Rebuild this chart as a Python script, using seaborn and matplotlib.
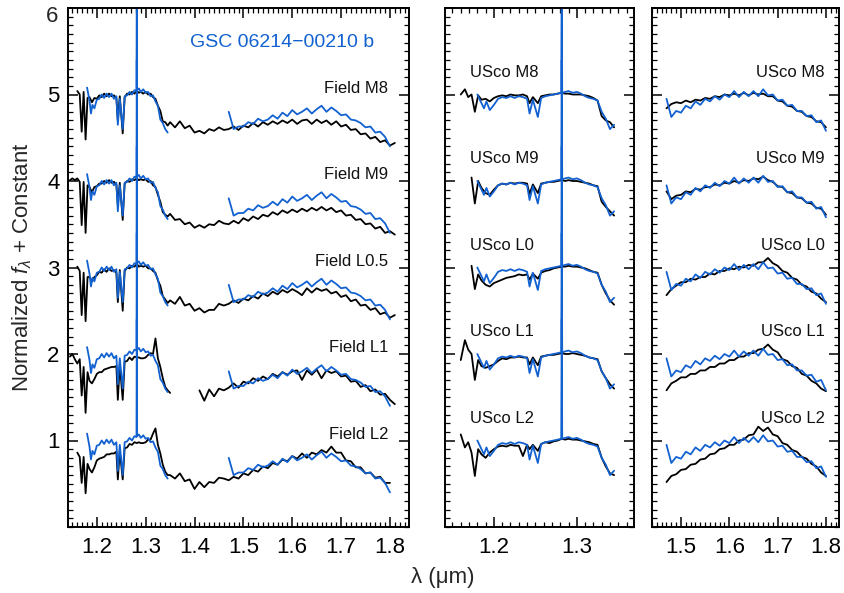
import numpy as np
import matplotlib
matplotlib.use("Agg")
import matplotlib.pyplot as plt
from matplotlib.ticker import MultipleLocator
from matplotlib.transforms import blended_transform_factory
import seaborn as sns

nan = np.nan
BLUE = "#1261d1"
BLACK = "#000000"

# ---------------- data (normalized flux; plotted = flux + offset) ----------------
offsets = [4, 3, 2, 1, 0]
field_labels = ["Field M8", "Field M9", "Field L0.5", "Field L1", "Field L2"]
usco_labels = ["USco M8", "USco M9", "USco L0", "USco L1", "USco L2"]
title_text = "GSC 06214\u221200210 b"

# wavelength grids (micron)
wJ = [1.145, 1.150, 1.155, 1.160, 1.165, 1.169, 1.173, 1.177, 1.181, 1.185, 1.190, 1.195,
      1.200, 1.205, 1.210, 1.215, 1.220, 1.225, 1.230, 1.235, 1.240, 1.243, 1.247, 1.253,
      1.257, 1.262, 1.267, 1.272, 1.277, 1.282, 1.286, 1.290, 1.295, 1.300, 1.305, 1.310,
      1.315, 1.320, 1.325, 1.330, 1.335, 1.340, 1.345]
wJo = [1.180, 1.185, 1.188, 1.191, 1.195, 1.200, 1.205, 1.210, 1.215, 1.220, 1.225, 1.230,
       1.235, 1.240, 1.243, 1.247, 1.253, 1.257, 1.262, 1.267, 1.272, 1.277, 1.2812, 1.2818,
       1.2824, 1.286, 1.290, 1.295, 1.300, 1.305, 1.310, 1.315, 1.320, 1.325, 1.330, 1.335,
       1.340, 1.345]
wG = [1.350, 1.360, 1.370, 1.380, 1.390, 1.400, 1.410, 1.420, 1.430, 1.440, 1.450, 1.460]
wH = [1.47, 1.48, 1.49, 1.50, 1.51, 1.52, 1.53, 1.54, 1.55, 1.56, 1.57, 1.58, 1.59, 1.60,
      1.61, 1.62, 1.63, 1.64, 1.65, 1.66, 1.67, 1.68, 1.69, 1.70, 1.71, 1.72, 1.73, 1.74,
      1.75, 1.76, 1.77, 1.78, 1.79, 1.80, 1.81]
wHr = [1.47, 1.48, 1.49, 1.50, 1.51, 1.52, 1.53, 1.54, 1.55, 1.56, 1.57, 1.58, 1.59, 1.60,
       1.61, 1.62, 1.63, 1.64, 1.65, 1.66, 1.67, 1.68, 1.69, 1.70, 1.71, 1.72, 1.73, 1.74,
       1.75, 1.76, 1.77, 1.78, 1.79, 1.80]

# GSC 06214-00210 b (blue)
obj_J_left = [1.08, 0.93, 0.78, 0.88, 0.84, 0.94, 0.95, 1.00, 0.96, 1.01, 0.97, 1.01, 0.95,
              0.98, 0.65, 0.95, 0.60, 0.98, 0.99, 1.03, 1.00, 1.05, 1.04, 2.40, 1.05, 1.07,
              1.03, 1.06, 1.02, 1.03, 0.98, 0.99, 0.92, 0.87, 0.71, 0.67, 0.60, 0.56]
obj_H_left = [0.80, 0.60, 0.63, 0.63, 0.68, 0.66, 0.72, 0.69, 0.71, 0.76, 0.72, 0.79, 0.75,
              0.82, 0.77, 0.80, 0.84, 0.78, 0.83, 0.87, 0.80, 0.85, 0.81, 0.76, 0.77, 0.71,
              0.70, 0.67, 0.62, 0.63, 0.56, 0.57, 0.51, 0.40, nan]
obj_J_mid = [1.00, 0.90, 0.84, 0.92, 0.82, 0.88, 0.95, 0.97, 0.96, 0.98, 0.96, 0.98, 0.97,
             0.95, 0.78, 0.94, 0.74, 0.96, 0.98, 0.99, 1.00, 1.01, 1.02, 2.40, 1.02, 1.03,
             1.04, 1.02, 1.03, 1.01, 0.98, 0.96, 0.95, 0.93, 0.80, 0.72, 0.60, 0.65]
obj_H_right = [0.95, 0.74, 0.81, 0.79, 0.87, 0.84, 0.92, 0.88, 0.95, 0.92, 0.98, 0.94, 1.00,
               0.97, 1.04, 0.97, 1.03, 0.98, 1.04, 0.98, 1.06, 0.99, 1.00, 0.93, 0.94, 0.87,
               0.88, 0.81, 0.81, 0.75, 0.76, 0.68, 0.70, 0.58]

# Field templates (black), left panel: J, gap, H
fM8_J = [nan, nan, nan, 1.04, 1.00, 0.57, 1.03, 0.48, 0.96, 0.97, 0.91, 0.96, 0.95, 0.99, 0.97,
         1.01, 0.98, 1.01, 0.98, 0.99, 0.96, 0.70, 0.98, 0.55, 0.97, 1.01, 1.00, 1.03, 1.01,
         1.04, 1.02, 1.03, 1.01, 1.03, 1.00, 1.01, 0.97, 0.95, 0.87, 0.81, 0.69, 0.68, 0.64]
fM9_J = [1.01, 1.03, 1.01, 1.03, 0.99, 0.49, 0.99, 0.40, 0.95, 0.93, 0.87, 0.93, 0.94, 0.97,
         0.97, 1.00, 0.98, 1.01, 0.98, 0.99, 0.96, 0.72, 0.98, 0.55, 0.97, 1.00, 0.99, 1.02,
         1.01, 1.03, 1.01, 1.02, 1.01, 1.02, 0.99, 1.00, 0.95, 0.93, 0.84, 0.76, 0.64, 0.61, 0.59]
fL05_J = [nan, nan, nan, 1.01, 0.96, 0.45, 0.94, 0.38, 0.89, 0.89, 0.84, 0.89, 0.91, 0.95,
          0.94, 0.98, 0.95, 0.99, 0.96, 0.97, 0.94, 0.60, 0.97, 0.50, 0.96, 1.00, 0.99, 1.02,
          1.01, 1.04, 1.01, 1.02, 1.01, 1.02, 0.99, 0.99, 0.96, 0.94, 0.85, 0.79, 0.67, 0.63, 0.59]
fL1_J = [0.97, 1.00, 0.94, 0.89, 0.94, 0.52, 0.85, 0.32, 0.79, 0.69, 0.66, 0.71, 0.77, 0.79,
         0.79, 0.82, 0.83, 0.84, 0.85, 0.85, 0.86, 0.47, 0.88, 0.47, 0.91, 0.92, 0.96, 0.93,
         0.97, 0.96, 0.96, 0.95, 0.95, 0.96, 0.99, 1.01, 1.00, 1.18, 0.95, 0.85, 0.72, 0.62, 0.58]
fL2_J = [nan, nan, nan, 0.86, 0.81, 0.51, 0.81, 0.39, 0.73, 0.67, 0.63, 0.69, 0.77, 0.79, 0.80,
         0.81, 0.84, 0.84, 0.85, 0.85, 0.87, 0.55, 0.88, 0.55, 0.91, 0.92, 0.96, 0.95, 0.98,
         0.97, 0.98, 0.97, 0.97, 0.98, 1.01, 1.01, 1.08, 1.14, 0.95, 0.85, 0.72, 0.64, 0.60]

fM8_G = [0.68, 0.62, 0.69, 0.61, 0.64, 0.56, 0.58, 0.55, 0.60, 0.58, 0.62, 0.59]
fM9_G = [0.62, 0.55, 0.56, 0.50, 0.52, 0.46, 0.49, 0.46, 0.50, 0.49, 0.54, 0.51]
fL05_G = [0.62, 0.58, 0.66, 0.56, 0.58, 0.50, 0.53, 0.48, 0.51, 0.51, 0.58, 0.56]
fL1_G = [0.55, nan, nan, nan, nan, nan, 0.58, 0.46, 0.59, 0.51, 0.60, 0.58]
fL2_G = [0.60, 0.56, 0.62, 0.53, 0.55, 0.44, 0.52, 0.46, 0.52, 0.51, 0.57, 0.56]

fM8_H = [0.60, 0.63, 0.59, 0.64, 0.62, 0.67, 0.63, 0.68, 0.65, 0.69, 0.66, 0.70, 0.67, 0.71,
         0.66, 0.70, 0.71, 0.66, 0.71, 0.67, 0.70, 0.65, 0.69, 0.63, 0.65, 0.59, 0.60, 0.54,
         0.55, 0.49, 0.51, 0.45, 0.47, 0.41, 0.44]
fM9_H = [0.50, 0.54, 0.51, 0.57, 0.54, 0.59, 0.56, 0.61, 0.59, 0.64, 0.61, 0.66, 0.63, 0.67,
         0.64, 0.68, 0.65, 0.69, 0.66, 0.70, 0.66, 0.69, 0.64, 0.66, 0.60, 0.61, 0.55, 0.56,
         0.50, 0.51, 0.45, 0.47, 0.40, 0.42, 0.38]
fL05_H = [0.58, 0.62, 0.59, 0.64, 0.62, 0.67, 0.64, 0.70, 0.67, 0.72, 0.69, 0.74, 0.71, 0.75,
          0.72, 0.68, 0.76, 0.71, 0.76, 0.73, 0.75, 0.70, 0.72, 0.66, 0.68, 0.61, 0.63, 0.56,
          0.57, 0.51, 0.53, 0.46, 0.48, 0.42, 0.45]
fL1_H = [0.61, 0.66, 0.61, 0.68, 0.66, 0.72, 0.69, 0.74, 0.71, 0.77, 0.74, 0.79, 0.76, 0.80,
         0.81, 0.70, 0.81, 0.76, 0.82, 0.72, 0.81, 0.78, 0.80, 0.74, 0.75, 0.68, 0.69, 0.62,
         0.64, 0.57, 0.59, 0.53, 0.54, 0.47, 0.42]
fL2_H = [0.54, 0.58, 0.56, 0.62, 0.60, 0.66, 0.64, 0.70, 0.68, 0.74, 0.72, 0.78, 0.76, 0.82,
         0.79, 0.85, 0.80, 0.86, 0.84, 0.89, 0.86, 0.93, 0.86, 0.86, 0.77, 0.76, 0.69, 0.69,
         0.62, 0.63, 0.57, 0.58, 0.51, 0.51, nan]

# USco templates (black), middle panel J
uM8_J = [nan, nan, nan, 1.00, 1.06, 0.97, 1.00, 0.80, 0.99, 0.94, 0.95, 0.92, 0.96, 0.98, 0.99,
         0.98, 1.00, 0.99, 0.99, 1.00, 0.98, 0.90, 0.97, 0.90, 0.98, 0.99, 1.00, 1.00, 1.01,
         1.02, 1.01, 1.01, 1.00, 1.00, 1.00, 0.99, 0.98, 0.96, 0.93, 0.75, 0.70, 0.68, 0.62]
uM9_J = [nan, nan, nan, nan, nan, nan, 1.04, 0.74, 1.00, 0.92, 0.86, 0.84, 0.90, 0.95, 0.97,
         0.96, 0.98, 0.97, 0.98, 0.98, 0.97, 0.85, 0.96, 0.86, 0.97, 0.98, 0.99, 0.99, 1.00,
         1.01, 1.00, 1.01, 1.00, 1.00, 0.99, 0.98, 0.97, 0.95, 0.94, 0.76, 0.70, 0.65, 0.60]
uL0_J = [nan, nan, nan, nan, nan, nan, 1.02, 0.75, 0.92, 0.85, 0.80, 0.78, 0.82, 0.84, 0.86,
         0.88, 0.89, 0.90, 0.92, 0.91, 0.92, 0.86, 0.93, 0.87, 0.94, 0.96, 0.97, 0.99, 1.00,
         1.01, 1.01, 1.02, 1.01, 1.01, 1.00, 0.99, 0.97, 0.95, 0.94, 0.80, 0.70, 0.62, 0.57]
uL1_J = [nan, nan, nan, 0.93, 1.16, 1.05, 1.00, 0.70, 0.93, 0.86, 0.84, 0.86, 0.88, 0.92, 0.95,
         0.94, 0.96, 0.96, 0.97, 0.96, 0.96, 0.88, 0.96, 0.87, 0.97, 0.98, 0.99, 0.99, 1.00,
         1.01, 1.00, 1.00, 1.01, 1.00, 0.99, 0.98, 0.96, 0.95, 0.94, 0.80, 0.72, 0.65, 0.60]
uL2_J = [nan, nan, nan, 1.07, 0.92, 0.98, 0.86, 0.59, 0.90, 0.84, 0.80, 0.86, 0.90, 0.93, 0.94,
         0.93, 0.95, 0.94, 0.94, 0.82, 0.95, 0.90, 0.95, 0.88, 0.96, 0.98, 0.97, 0.99, 1.00,
         1.02, 1.01, 1.02, 1.01, 1.01, 1.00, 0.99, 0.98, 0.96, 0.95, 0.80, 0.70, 0.62, 0.60]

# USco templates (black), right panel H
uM8_H = [0.84, 0.89, 0.91, 0.90, 0.93, 0.91, 0.94, 0.93, 0.96, 0.95, 0.98, 0.97, 1.00, 0.99,
         1.01, 0.99, 1.02, 0.99, 1.02, 1.00, 1.01, 0.98, 0.98, 0.93, 0.92, 0.87, 0.86, 0.81,
         0.80, 0.75, 0.74, 0.69, 0.68, 0.62]
uM9_H = [0.88, 0.79, 0.83, 0.84, 0.88, 0.87, 0.91, 0.90, 0.93, 0.93, 0.96, 0.95, 0.98, 0.97,
         1.00, 0.98, 1.01, 1.00, 1.03, 1.02, 1.05, 1.01, 0.99, 0.94, 0.93, 0.87, 0.86, 0.81,
         0.80, 0.75, 0.74, 0.69, 0.68, 0.61]
uL0_H = [0.68, 0.75, 0.79, 0.83, 0.83, 0.87, 0.86, 0.89, 0.89, 0.93, 0.92, 0.96, 0.96, 0.99,
         0.98, 1.01, 1.00, 1.03, 1.02, 1.06, 1.06, 1.11, 1.05, 1.02, 0.96, 0.94, 0.88, 0.86,
         0.80, 0.78, 0.72, 0.70, 0.64, 0.60]
uL1_H = [0.58, 0.66, 0.69, 0.73, 0.73, 0.77, 0.77, 0.81, 0.81, 0.85, 0.85, 0.89, 0.89, 0.93,
         0.93, 0.97, 0.97, 1.01, 1.01, 1.05, 1.06, 1.11, 1.05, 1.02, 0.94, 0.92, 0.86, 0.84,
         0.77, 0.75, 0.69, 0.66, 0.60, 0.57]
uL2_H = [0.52, 0.59, 0.61, 0.66, 0.67, 0.72, 0.73, 0.78, 0.79, 0.84, 0.85, 0.90, 0.91, 0.95,
         0.95, 1.00, 1.01, 1.06, 1.07, 1.16, 1.11, 1.15, 1.07, 1.05, 0.97, 0.95, 0.89, 0.87,
         0.81, 0.79, 0.73, 0.70, 0.63, 0.59]

field_J = [fM8_J, fM9_J, fL05_J, fL1_J, fL2_J]
field_G = [fM8_G, fM9_G, fL05_G, fL1_G, fL2_G]
field_H = [fM8_H, fM9_H, fL05_H, fL1_H, fL2_H]
usco_J = [uM8_J, uM9_J, uL0_J, uL1_J, uL2_J]
usco_H = [uM8_H, uM9_H, uL0_H, uL1_H, uL2_H]

# ---------------- style ----------------
sns.set_theme(style="white")
plt.rcParams["font.family"] = ["Liberation Sans", "DejaVu Sans"]
plt.rcParams["mathtext.fontset"] = "custom"
plt.rcParams["mathtext.rm"] = "Liberation Sans"
plt.rcParams["mathtext.it"] = "Liberation Sans:italic"

fig = plt.figure(figsize=(8.44, 5.93), dpi=100)
W, H = 844.0, 593.0
bot, top = 527.0, 8.0
def add_ax(x0, x1):
    return fig.add_axes([x0 / W, 1 - bot / H, (x1 - x0) / W, (bot - top) / H])
axL = add_ax(68, 409)
axM = add_ax(445, 634)
axR = add_ax(652, 839)

LW = 1.3

def draw(ax, lam, flux, offset, color):
    lam = np.asarray(lam, float)
    y = np.asarray(flux, float) + offset
    idx = np.flatnonzero(~np.isnan(y))
    if idx.size == 0:
        return
    runs = np.split(idx, np.where(np.diff(idx) > 1)[0] + 1)
    for run in runs:
        if run.size < 2:
            continue
        sns.lineplot(x=lam[run], y=y[run], ax=ax, color=color, lw=LW,
                     sort=False, estimator=None, legend=False)

for i, off in enumerate(offsets):
    lam_all = list(wJ) + list(wG) + list(wH)
    flux_all = list(field_J[i]) + list(field_G[i]) + list(field_H[i])
    draw(axL, lam_all, flux_all, off, BLACK)
    draw(axL, wJo, obj_J_left, off, BLUE)
    draw(axL, wH, obj_H_left, off, BLUE)
    axL.text(1.797, off + 1.075, field_labels[i], ha="right", va="center", fontsize=12, color="#111111")
    draw(axM, wJ, usco_J[i], off, BLACK)
    draw(axM, wJo, obj_J_mid, off, BLUE)
    axM.text(1.171, off + 1.26, usco_labels[i], ha="left", va="center", fontsize=12, color="#111111")
    draw(axR, wHr, usco_H[i], off, BLACK)
    draw(axR, wHr, obj_H_right, off, BLUE)
    axR.text(1.797, off + 1.26, usco_labels[i], ha="right", va="center", fontsize=12, color="#111111")

axL.text(1.58, 5.6, title_text, ha="center", va="center", fontsize=14, color=BLUE)

limits = {axL: (1.141, 1.839), axM: (1.141, 1.369), axR: (1.44, 1.827)}
xmajor = {axL: [1.2, 1.3, 1.4, 1.5, 1.6, 1.7, 1.8], axM: [1.2, 1.3], axR: [1.5, 1.6, 1.7, 1.8]}
for ax in (axL, axM, axR):
    ax.set_xlim(*limits[ax])
    ax.set_ylim(0, 6)
    ax.set_xticks(xmajor[ax])
    ax.set_xticklabels(["%.1f" % v for v in xmajor[ax]])
    ax.xaxis.set_minor_locator(MultipleLocator(0.01))
    ax.set_yticks([1, 2, 3, 4, 5, 6])
    ax.yaxis.set_minor_locator(MultipleLocator(0.1))
    ax.tick_params(which="both", direction="in", top=True, right=True, bottom=True, left=True,
                   colors="black", labelsize=16)
    ax.tick_params(which="major", length=7, width=1.1)
    ax.tick_params(which="minor", length=3.5, width=0.9)
    ax.tick_params(axis="x", which="major", pad=7)
    ax.tick_params(axis="y", which="major", pad=6)
    for s in ax.spines.values():
        s.set_linewidth(1.4)
        s.set_color("black")
        s.set_visible(True)
    ax.set_xlabel("")
    ax.set_ylabel("")
    ax.set_facecolor("white")
axL.set_yticklabels(["1", "2", "3", "4", "5", ""])
axL.text(-0.028, 5.9, "6", transform=blended_transform_factory(axL.transAxes, axL.transData),
         ha="right", va="center", fontsize=16)
axM.set_yticklabels([])
axR.set_yticklabels([])

fig.text(22 / W, 1 - 267 / H, r"Normalized $f_\lambda$ + Constant", rotation=90,
         ha="center", va="center", fontsize=16)
fig.text(443 / W, 1 - 577 / H, "\u03bb (\u03bcm)", ha="center", va="center", fontsize=16)

fig.savefig("out.png", dpi=100, facecolor="white")
